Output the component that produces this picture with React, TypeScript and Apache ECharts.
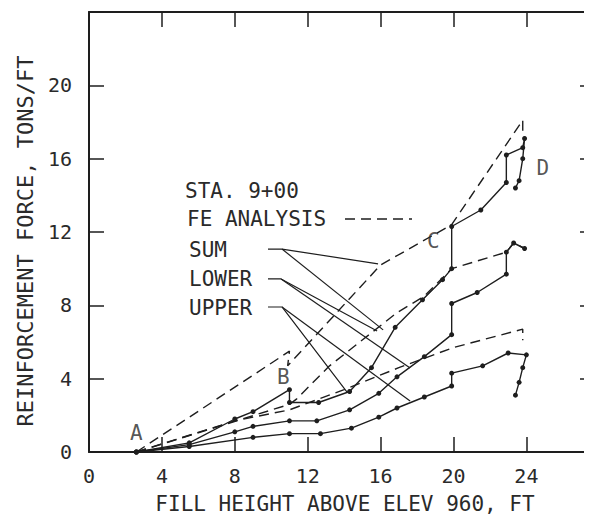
import React, { useEffect, useRef } from "react";
import * as echarts from "echarts";

// ---- data (ft, tons/ft) ----
const xTicks = [0, 4, 8, 12, 16, 20, 24];
const yTicks = [0, 4, 8, 12, 16, 20];

const sumMeasured: [number, number][] = [
  [2.6, 0], [5.5, 0.5], [8, 1.8], [9, 2.2], [11, 3.4], [11, 2.7], [12.6, 2.7],
  [14.3, 3.3], [15.5, 4.6], [16.8, 6.8], [18.3, 8.3], [19.4, 9.4], [19.9, 10.0],
  [19.9, 12.3], [21.5, 13.2], [22.9, 14.7], [22.9, 16.2], [23.8, 16.6], [23.9, 17.1],
  [23.8, 16.0], [23.6, 14.8], [23.4, 14.4],
];
const lowerMeasured: [number, number][] = [
  [2.6, 0], [5.5, 0.4], [8, 1.1], [9, 1.4], [11, 1.7], [12.5, 1.7], [14.3, 2.3],
  [15.9, 3.2], [16.9, 4.1], [18.4, 5.2], [19.9, 6.4], [19.9, 8.1], [21.3, 8.7],
  [22.9, 9.7], [22.9, 10.9], [23.3, 11.4], [23.9, 11.1],
];
const upperMeasured: [number, number][] = [
  [2.6, 0], [5.5, 0.3], [9, 0.8], [11, 1.0], [12.7, 1.0], [14.4, 1.3], [15.9, 1.9],
  [16.9, 2.4], [18.4, 3.0], [19.9, 3.6], [19.9, 4.3], [21.6, 4.7], [23.0, 5.4],
  [24.0, 5.3], [23.8, 4.6], [23.6, 3.8], [23.4, 3.1],
];
const sumFE: [number, number][] = [
  [2.6, 0], [11, 5.5], [10.9, 4.7], [16, 10.2], [19.9, 12.4], [23.8, 18.1], [23.8, 17.2],
];
const lowerFE: [number, number][] = [
  [2.6, 0], [11, 2.6], [11.4, 2.9], [13.2, 4.7], [16.9, 7.6], [18.4, 8.5], [19.9, 10.0],
  [22.9, 10.9], [23.3, 11.4], [23.9, 11.1],
];
const upperFE: [number, number][] = [
  [2.6, 0], [8, 1.7], [11, 2.3], [14, 3.4], [17, 4.6], [20, 5.7], [23.8, 6.7], [23.8, 6.1],
];
// pointer lines from the key labels to the curves
const pointers: [number, number][][] = [
  [[9.82, 11.07], [10.59, 11.07], [15.86, 10.26]],
  [[10.59, 11.07], [16.14, 6.66]],
  [[9.82, 9.44], [10.54, 9.44], [15.81, 6.6]],
  [[10.54, 9.44], [17.62, 4.58]],
  [[9.82, 7.91], [10.59, 7.91], [14.16, 3.27]],
  [[10.59, 7.91], [17.62, 2.78]],
];
const pointLabels = [
  { name: "A", value: [2.6, 1.05] },
  { name: "B", value: [10.66, 4.1] },
  { name: "C", value: [18.9, 11.5] },
  { name: "D", value: [24.9, 15.5] },
];
const keyTitle = "STA. 9+00";
const keyFE = "FE ANALYSIS";
const keyLabels = ["SUM", "LOWER", "UPPER"];

const X_MAX = 27.6;
const Y_MAX = 24;
const INK = "#1e1e1e";
const TXT = "#2a2a2a";
const FONT = '"DejaVu Sans Mono", monospace';

export default function App() {
  const ref = useRef<HTMLDivElement>(null);
  useEffect(() => {
    if (!ref.current) return;
    const chart = echarts.init(ref.current, null, { renderer: "svg" });
    const measured = (d: [number, number][], name: string) => ({
      type: "line",
      name,
      data: d,
      symbol: "circle",
      symbolSize: 5,
      showSymbol: true,
      lineStyle: { color: INK, width: 1.4 },
      itemStyle: { color: INK },
      z: 3,
    });
    const fe = (d: [number, number][], name: string) => ({
      type: "line",
      name,
      data: d,
      showSymbol: false,
      symbol: "none",
      lineStyle: { color: INK, width: 1.4, type: [10, 6] },
      z: 2,
    });
    const ptr = pointers.map((d, i) => ({
      type: "line",
      name: "pointer" + i,
      data: d,
      symbol: "none",
      lineStyle: { color: INK, width: 1.2 },
      z: 2,
    }));
    const tick = {
      show: true,
      inside: true,
      length: 15,
      lineStyle: { color: INK, width: 1.5 },
    };
    const xCommon = {
      type: "value",
      min: 0,
      max: X_MAX,
      interval: 4,
      splitLine: { show: false },
      axisLine: { show: true, onZero: false, lineStyle: { color: INK, width: 2 } },
      axisTick: tick,
    };
    const yCommon = {
      type: "value",
      min: 0,
      max: Y_MAX,
      interval: 4,
      splitLine: { show: false },
      axisTick: tick,
    };
    chart.setOption({
      animation: false,
      backgroundColor: "#ffffff",
      grid: { left: 89, top: 12, right: 0, bottom: 65, containLabel: false },
      xAxis: [
        {
          ...xCommon,
          position: "bottom",
          axisLabel: {
            show: true,
            margin: 14,
            fontFamily: FONT,
            fontSize: 20,
            color: TXT,
            showMaxLabel: false,
            formatter: (v: number) => (xTicks.includes(v) ? String(v) : ""),
          },
        },
        {
          ...xCommon,
          position: "top",
          axisLabel: { show: false },
        },
      ],
      yAxis: [
        {
          ...yCommon,
          position: "left",
          axisLine: { show: true, onZero: false, lineStyle: { color: INK, width: 2 } },
          axisLabel: {
            show: true,
            margin: 17,
            fontFamily: FONT,
            fontSize: 20,
            color: TXT,
            formatter: (v: number) => (yTicks.includes(v) ? String(v) : ""),
          },
        },
        {
          ...yCommon,
          position: "right",
          axisLine: { show: false, onZero: false },
          axisTick: { ...tick, length: 12 },
          axisLabel: { show: false },
        },
      ],
      series: [
        fe(sumFE, "FE SUM"),
        fe(lowerFE, "FE LOWER"),
        fe(upperFE, "FE UPPER"),
        measured(sumMeasured, "SUM"),
        measured(lowerMeasured, "LOWER"),
        measured(upperMeasured, "UPPER"),
        ...ptr,
        {
          type: "scatter",
          name: "points",
          data: pointLabels,
          symbol: "circle",
          symbolSize: 1,
          itemStyle: { color: "rgba(0,0,0,0)" },
          label: {
            show: true,
            position: "inside",
            formatter: "{b}",
            fontFamily: FONT,
            fontSize: 21,
            color: TXT,
          },
          z: 4,
        },
      ],
      graphic: [
        {
          type: "text",
          left: 185,
          top: 180,
          style: { text: keyTitle, font: `21px ${FONT}`, fill: TXT },
        },
        {
          type: "text",
          left: 187,
          top: 208,
          style: { text: keyFE, font: `21px ${FONT}`, fill: TXT },
        },
        {
          type: "line",
          shape: { x1: 345, y1: 219, x2: 412, y2: 219 },
          style: { stroke: INK, lineWidth: 1.4, lineDash: [10, 6] },
        },
        ...keyLabels.map((t, i) => ({
          type: "text",
          left: 189,
          top: [239, 268, 297][i],
          style: { text: t, font: `21px ${FONT}`, fill: TXT },
        })),
        {
          type: "text",
          x: 345,
          y: 504,
          style: {
            text: "FILL HEIGHT ABOVE ELEV 960, FT",
            font: `21px ${FONT}`,
            fill: TXT,
            align: "center",
            verticalAlign: "middle",
          },
        },
        {
          type: "text",
          x: 25,
          y: 241,
          rotation: Math.PI / 2,
          style: {
            text: "REINFORCEMENT FORCE, TONS/FT",
            font: `22px ${FONT}`,
            fill: TXT,
            align: "center",
            verticalAlign: "middle",
          },
        },
      ],
    });
    return () => chart.dispose();
  }, []);
  return <div ref={ref} style={{ width: 592, height: 517, marginLeft: -8, marginTop: -8 }} />;
}
